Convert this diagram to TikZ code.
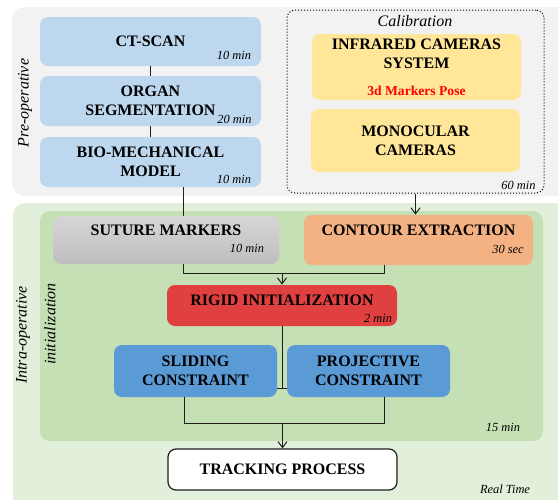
\documentclass[tikz,border=0pt]{standalone}
\usepackage{fontspec}
\setmainfont{Liberation Serif}
\usetikzlibrary{arrows.meta,positioning,calc}
\definecolor{colFond}{RGB}{242,242,242}
\definecolor{colVertClair}{RGB}{226,239,218}
\definecolor{colVert}{RGB}{197,224,180}
\definecolor{colBleuClair}{RGB}{189,215,238}
\definecolor{colJaune}{RGB}{255,230,153}
\definecolor{colOrange}{RGB}{244,177,131}
\definecolor{colRouge}{RGB}{224,64,64}
\definecolor{colBleu}{RGB}{91,155,213}
\definecolor{colGrisHaut}{RGB}{214,214,214}
\definecolor{colGrisBas}{RGB}{190,190,190}
\definecolor{colTrait}{RGB}{30,30,30}

\begin{document}
\begin{tikzpicture}[x=0.5pt, y=-0.5pt,
    b/.style={rectangle, rounded corners=4pt, align=center, inner sep=2pt,
      font=\fontsize{8}{9.5}\selectfont\bfseries},
    tps/.style={inner sep=0.5pt, font=\fontsize{6.2}{7}\selectfont\itshape},
    lbl/.style={inner sep=1pt, font=\fontsize{8}{9}\selectfont\itshape},
    ln/.style={line width=0.5pt, colTrait},
    fl/.style={-{Straight Barb[length=3pt,width=4.5pt]}, line width=0.5pt, colTrait}]
    \useasboundingbox (0,0) rectangle (558,499);
    \clip (0,0) rectangle (558,499);
    % fonds
    \fill[colFond, rounded corners=6pt] (12,7) rectangle (575,196);
    \fill[colVertClair, rounded corners=6pt] (13,203) rectangle (575,515);
    \fill[colVert, rounded corners=5pt] (40,211) rectangle (543,441);
    \node[lbl, rotate=90] (pre) at (25,103) {Pre-operative};
    \node[lbl, rotate=90] (intra) at (23,335) {Intra-operative};
    \node[lbl, rotate=90] (init) at (50,324) {initialization};
    % pre-operatoire
    \node[b, fill=colBleuClair, minimum width=110.5pt, minimum height=24.5pt]
      (ct) at (150.5,41.5) {CT-SCAN};
    \node[b, fill=colBleuClair, minimum width=110.5pt, minimum height=25pt]
      (org) at (150.5,101) {ORGAN\\SEGMENTATION};
    \node[b, fill=colBleuClair, minimum width=110.5pt, minimum height=25pt]
      (bio) at (150.5,162) {BIO-MECHANICAL\\MODEL};
    \node[tps] at (234,55) {10 min};
    \node[tps] at (234.5,119) {20 min};
    \node[tps] at (234,179) {10 min};
    % calibration
    \node[draw, densely dotted, line width=0.5pt, rounded corners=4pt,
      minimum width=128.5pt, minimum height=91.5pt] (cal) at (415.5,101.5) {};
    \node[lbl] at (415,21) {Calibration};
    \node[b, fill=colJaune, minimum width=104.5pt, minimum height=33pt]
      (ir) at (416.5,67) {INFRARED CAMERAS\\SYSTEM\\[4pt]
      {\color{red}\fontsize{6.8}{8}\selectfont 3d Markers Pose}};
    \node[b, fill=colJaune, minimum width=104.5pt, minimum height=31.5pt]
      (mono) at (415.5,140.5) {MONOCULAR\\CAMERAS};
    \node[tps] at (518.5,185) {60 min};
    % intra-operatoire
    \node[b, top color=colGrisHaut, bottom color=colGrisBas,
      minimum width=113pt, minimum height=24pt] (sut) at (166,240)
      {SUTURE MARKERS\\[0.5pt]};
    \node[b, fill=colOrange, minimum width=114.5pt, minimum height=25pt]
      (con) at (418.5,240) {CONTOUR EXTRACTION\\[0.5pt]};
    \node[tps] at (247,248) {10 min};
    \node[tps] at (508,249) {30 sec};
    \node[b, fill=colRouge, minimum width=115pt, minimum height=20.5pt]
      (rig) at (282,305.5) {RIGID INITIALIZATION\\[-4pt]};
    \node[tps] at (378,318) {2 min};
    \node[b, fill=colBleu, minimum width=81.5pt, minimum height=26pt]
      (sli) at (195.5,371) {SLIDING\\CONSTRAINT};
    \node[b, fill=colBleu, minimum width=81.5pt, minimum height=26pt]
      (pro) at (368.5,371) {PROJECTIVE\\CONSTRAINT};
    \node[tps] at (503,427) {15 min};
    \node[b, draw=colTrait, line width=0.6pt, fill=white, minimum width=114.5pt,
      minimum height=20.5pt] (tra) at (282.5,469.5) {TRACKING PROCESS};
    \node[tps] at (505,489) {Real Time};
    % liaisons
    \coordinate (jg) at (183,273);
    \coordinate (jd) at (384,273);
    \coordinate (jc) at (282,388);
    \coordinate (kg) at (184,423);
    \coordinate (kd) at (384,423);
    \draw[ln] (ct) -- (org);
    \draw[ln] (org) -- (bio);
    \draw[ln] (bio.south -| jg) -- (sut.north -| jg);
    \draw[fl] (cal.south) -- (cal.south |- con.north);
    \draw[ln] (sut.south -| jg) -- (jg) -- (jd) -- (con.south -| jd);
    \draw[fl] (rig.north |- jg) -- (rig.north);
    \draw[ln] (rig.south) -- (rig.south |- jc);
    \draw[ln] (sli.east |- jc) -- (pro.west |- jc);
    \draw[ln] (sli.south -| kg) -- (kg) -- (kd) -- (pro.south -| kd);
    \draw[fl] (tra.north |- kg) -- (tra.north);
  \end{tikzpicture}
\end{document}
